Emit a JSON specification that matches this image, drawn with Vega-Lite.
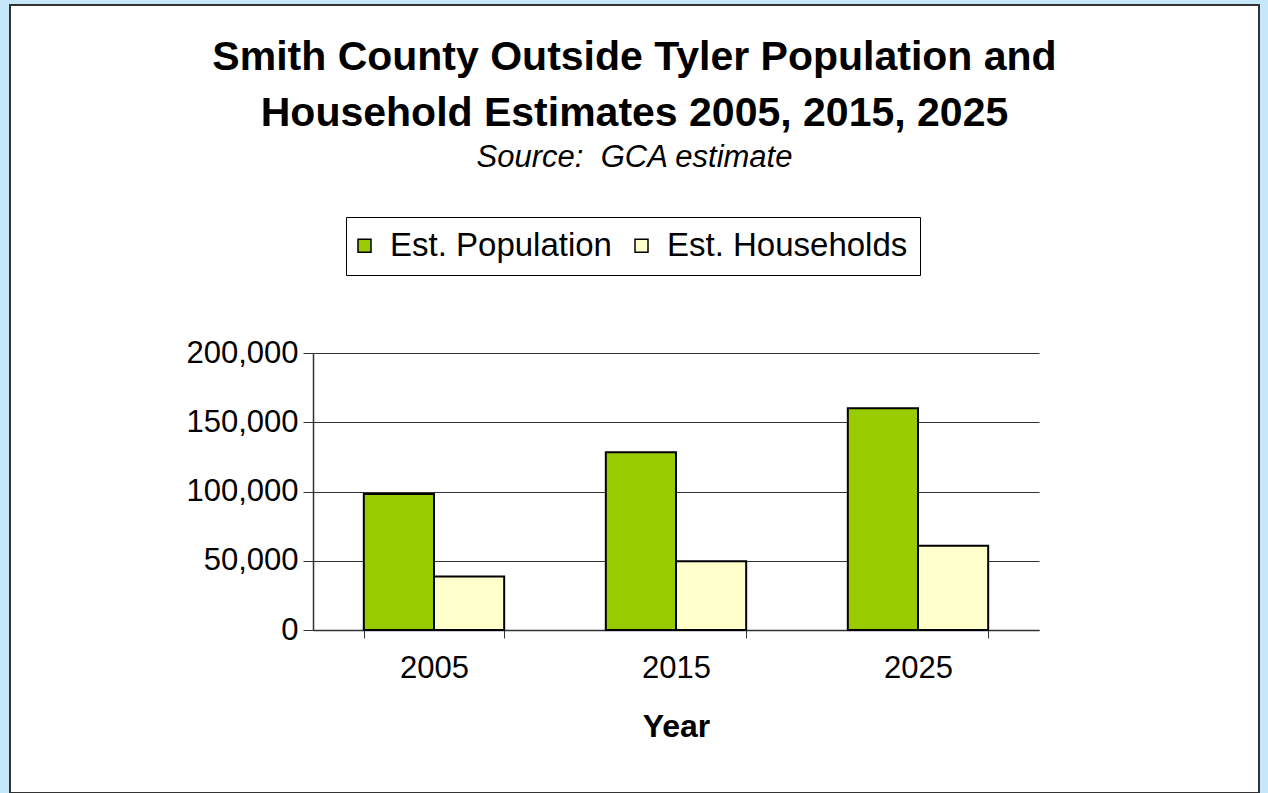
{
  "$schema": "https://vega.github.io/schema/vega-lite/v6.json",
  "width": 1249,
  "height": 788,
  "autosize": {"type": "none"},
  "padding": {"left": 10, "top": 5, "right": 9, "bottom": 0},
  "background": "#c6e6fa",
  "config": {
    "font": "Liberation Sans",
    "view": {"fill": "white", "stroke": "#333333", "strokeWidth": 2}
  },
  "title": {
    "text": ["Smith County Outside Tyler Population and", "Household Estimates 2005, 2015, 2025"],
    "subtitle": "Source:\u00a0 GCA estimate",
    "anchor": "middle",
    "frame": "group",
    "offset": -169,
    "font": "Liberation Sans",
    "fontSize": 41,
    "fontWeight": "bold",
    "color": "black",
    "lineHeight": 56,
    "subtitleFont": "Liberation Sans",
    "subtitleFontSize": 31,
    "subtitleFontStyle": "italic",
    "subtitleColor": "black",
    "subtitlePadding": 8
  },
  "data": {
    "values": [
      {"year": "2005", "series": "Est. Population", "value": 98200},
      {"year": "2005", "series": "Est. Households", "value": 38600},
      {"year": "2015", "series": "Est. Population", "value": 128300},
      {"year": "2015", "series": "Est. Households", "value": 49600},
      {"year": "2025", "series": "Est. Population", "value": 160100},
      {"year": "2025", "series": "Est. Households", "value": 60900}
    ]
  },
  "mark": {"type": "bar", "stroke": "black", "strokeWidth": 2},
  "encoding": {
    "x": {
      "field": "year",
      "type": "nominal",
      "scale": {"range": [303, 1029], "paddingInner": 0.42, "paddingOuter": 0.21},
      "axis": {
        "orient": "bottom",
        "offset": -163,
        "labelAngle": 0,
        "tickBand": "extent",
        "tickSize": 8,
        "tickColor": "#333333",
        "domainColor": "#333333",
        "domainWidth": 1.5,
        "labelFontSize": 31,
        "labelColor": "black",
        "labelPadding": 15,
        "title": "Year",
        "titleFontSize": 32,
        "titleFontWeight": "bold",
        "titleColor": "black",
        "titlePadding": 28,
        "grid": false
      }
    },
    "xOffset": {
      "field": "series",
      "sort": ["Est. Population", "Est. Households"],
      "scale": {"paddingInner": 0, "paddingOuter": 0}
    },
    "y": {
      "field": "value",
      "type": "quantitative",
      "scale": {"domain": [0, 200000], "range": [625, 348], "nice": false, "zero": true},
      "axis": {
        "orient": "left",
        "offset": -303,
        "values": [0, 50000, 100000, 150000, 200000],
        "format": ",.0f",
        "title": null,
        "labelFontSize": 31,
        "labelColor": "black",
        "labelPadding": 5,
        "tickSize": 10,
        "tickColor": "#333333",
        "domainColor": "#333333",
        "domainWidth": 1.5,
        "grid": true,
        "gridColor": "#333333",
        "gridWidth": 1
      }
    },
    "color": {
      "field": "series",
      "type": "nominal",
      "sort": ["Est. Population", "Est. Households"],
      "scale": {"domain": ["Est. Population", "Est. Households"], "range": ["#99cc00", "#ffffcc"]},
      "legend": {
        "orient": "none",
        "legendX": 336,
        "legendY": 212,
        "direction": "horizontal",
        "title": null,
        "strokeColor": "black",
        "padding": 12,
        "symbolType": "square",
        "symbolSize": 169,
        "symbolOffset": -10,
        "symbolStrokeColor": "black",
        "symbolStrokeWidth": 1.5,
        "symbolOpacity": 1,
        "labelFontSize": 33,
        "labelLimit": 500,
        "labelColor": "black",
        "labelOffset": 9,
        "columnPadding": 20
      }
    }
  }
}
